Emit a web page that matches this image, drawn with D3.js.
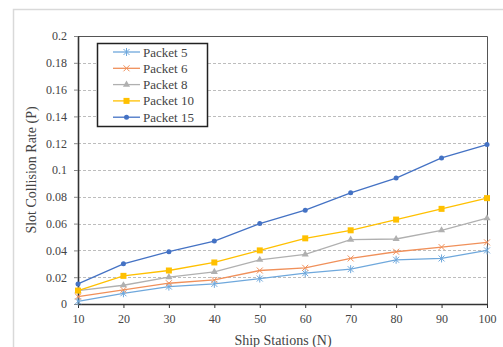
<!DOCTYPE html>
<html>
<head>
<meta charset="utf-8">
<script src="https://cdn.jsdelivr.net/npm/d3@7"></script>
<style>
body { margin:0; background:#fff; }
svg text { font-family: "Liberation Serif", "Times New Roman", serif; fill:#444; }
</style>
</head>
<body>
<div id="chart"></div>
<script>
var stations = [10, 20, 30, 40, 50, 60, 70, 80, 90, 100];
var yTicks = [0, 0.02, 0.04, 0.06, 0.08, 0.1, 0.12, 0.14, 0.16, 0.18, 0.2];
var seriesNames = ["Packet 5", "Packet 6", "Packet 8", "Packet 10", "Packet 15"];
var packet5  = [0.002, 0.008, 0.013, 0.015, 0.019, 0.023, 0.026, 0.033, 0.034, 0.040];
var packet6  = [0.0055, 0.0105, 0.0155, 0.018, 0.025, 0.027, 0.034, 0.039, 0.0425, 0.046];
var packet8  = [0.010, 0.014, 0.020, 0.024, 0.033, 0.037, 0.048, 0.0485, 0.055, 0.064];
var packet10 = [0.010, 0.021, 0.025, 0.031, 0.040, 0.049, 0.055, 0.063, 0.071, 0.079];
var packet15 = [0.015, 0.030, 0.039, 0.047, 0.060, 0.070, 0.083, 0.094, 0.109, 0.119];
var colors = ["#6fa8dc", "#f0905a", "#b0b0b0", "#ffc000", "#4472c4"];
var markers = ["star", "x", "triangle", "square", "circle"];

var W = 503, H = 347;
var pLeft = 78, pRight = 487, pTop = 36, pBottom = 304;

var svg = d3.select("#chart").append("svg").attr("width", W).attr("height", H);

// outer frame
svg.append("rect").attr("x", 13.5).attr("y", 9.5).attr("width", 495).attr("height", 345)
    .attr("fill", "#fff").attr("stroke", "#d9d9d9").attr("stroke-width", 1.5);

var x = d3.scaleLinear().domain([10, 100]).range([pLeft, pRight]);
var y = d3.scaleLinear().domain([0, 0.2]).range([pBottom, pTop]);

// grid lines
svg.append("g").selectAll("line").data(yTicks.slice(1, -1)).enter().append("line")
    .attr("x1", pLeft).attr("x2", pRight)
    .attr("y1", function(d){ return Math.round(y(d)) + 0.5; })
    .attr("y2", function(d){ return Math.round(y(d)) + 0.5; })
    .attr("stroke", "#bdbdbd").attr("stroke-dasharray", "3,2");

// top and right border
svg.append("path").attr("d", "M" + pLeft + "," + (pTop + 0.5) + "H" + (pRight + 0.5) + "V" + pBottom)
    .attr("fill", "none").attr("stroke", "#555");

// axes
var xAxis = d3.axisBottom(x).tickValues(stations).tickSize(4).tickSizeOuter(0).tickPadding(6);
var yAxis = d3.axisLeft(y).tickValues(yTicks).tickSize(4).tickSizeOuter(0).tickPadding(7)
    .tickFormat(function(d){ return d === 0 ? "0" : String(+d.toFixed(2)); });

var gx = svg.append("g").attr("transform", "translate(0," + pBottom + ")").call(xAxis);
var gy = svg.append("g").attr("transform", "translate(" + pLeft + ",0)").call(yAxis);
[gx, gy].forEach(function(g){
    g.select(".domain").attr("stroke", "#333").attr("stroke-width", 1.6);
    g.selectAll(".tick line").attr("stroke", "#333");
    g.selectAll(".tick text").attr("font-size", 12).attr("fill", "#444")
        .attr("font-family", "Liberation Serif, serif");
});
gy.selectAll(".tick line").attr("stroke", "#888");

// axis titles
svg.append("text").attr("x", 283).attr("y", 345).attr("text-anchor", "middle")
    .attr("font-size", 14).text("Ship Stations (N)");
svg.append("text").attr("transform", "translate(36,170)rotate(-90)").attr("text-anchor", "middle")
    .attr("font-size", 14).text("Slot Collision Rate (P)");

function drawMarker(g, type, color) {
    if (type == "circle") g.append("circle").attr("r", 2.5).attr("fill", color);
    else if (type == "square") g.append("rect").attr("x", -3).attr("y", -3).attr("width", 6).attr("height", 6).attr("fill", color);
    else if (type == "triangle") g.append("path").attr("d", d3.symbol(d3.symbolTriangle, 22)()).attr("fill", color);
    else if (type == "x") g.append("path").attr("d", "M-3,-3L3,3M-3,3L3,-3").attr("stroke", color).attr("stroke-width", 1);
    else if (type == "star") g.append("path").attr("d", "M-3,-3L3,3M-3,3L3,-3M0,-4V4").attr("stroke", color).attr("stroke-width", 1);
}

var data = [packet5, packet6, packet8, packet10, packet15];
var line = d3.line().x(function(d, i){ return x(stations[i]); }).y(function(d){ return y(d); });

data.forEach(function(vals, k){
    svg.append("path").attr("d", line(vals)).attr("fill", "none")
        .attr("stroke", colors[k]).attr("stroke-width", 1.3);
    vals.forEach(function(v, i){
        var g = svg.append("g").attr("transform", "translate(" + x(stations[i]) + "," + y(v) + ")");
        drawMarker(g, markers[k], colors[k]);
    });
});

// legend
var leg = svg.append("g");
leg.append("rect").attr("x", 97.5).attr("y", 43.5).attr("width", 110).attr("height", 83)
    .attr("fill", "#fff").attr("stroke", "#222").attr("stroke-width", 1.5);
seriesNames.forEach(function(name, k){
    var ly = 52 + k * 16.3;
    leg.append("line").attr("x1", 113).attr("x2", 140).attr("y1", ly).attr("y2", ly)
        .attr("stroke", colors[k]).attr("stroke-width", 1.3);
    drawMarker(leg.append("g").attr("transform", "translate(126.5," + ly + ")"), markers[k], colors[k]);
    leg.append("text").attr("x", 143).attr("y", ly + 4.5).attr("font-size", 13).text(name);
});
</script>
</body>
</html>
